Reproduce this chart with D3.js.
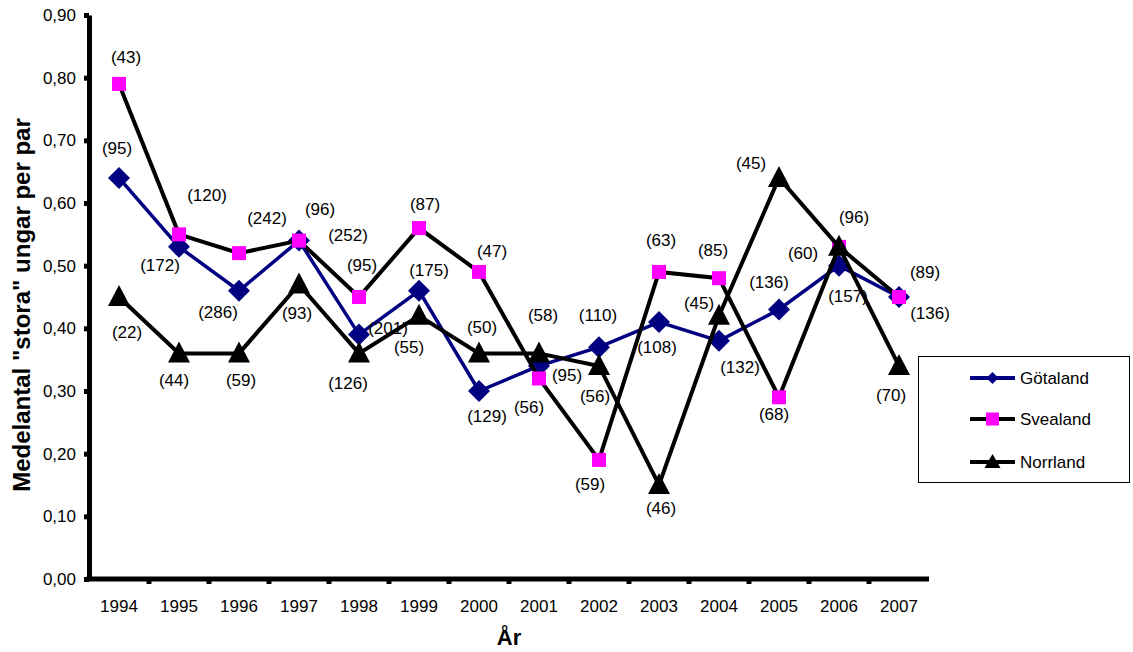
<!DOCTYPE html>
<html><head><meta charset="utf-8">
<script src="https://cdn.jsdelivr.net/npm/d3@7"></script>
<style>
body{margin:0;background:#fff;}
text{font-family:"Liberation Sans",Arial,sans-serif;fill:#000;}
</style></head>
<body><svg id="c" width="1133" height="652"></svg>
<script>
const years = ["1994","1995","1996","1997","1998","1999","2000","2001","2002","2003","2004","2005","2006","2007"];
const yTicks = [0,0.1,0.2,0.3,0.4,0.5,0.6,0.7,0.8,0.9];
const seriesNames = ["Götaland","Svealand","Norrland"];
const gotaland = [0.64,0.53,0.46,0.54,0.39,0.46,0.30,0.34,0.37,0.41,0.38,0.43,0.50,0.45];
const svealand = [0.79,0.55,0.52,0.54,0.45,0.56,0.49,0.32,0.19,0.49,0.48,0.29,0.53,0.45];
const norrland = [0.45,0.36,0.36,0.47,0.36,0.42,0.36,0.36,0.34,0.15,0.42,0.64,0.53,0.34];
const gotalandN = [95,172,286,252,201,175,129,95,110,108,132,136,157,136];
const svealandN = [43,120,242,96,95,87,47,56,59,63,85,68,96,89];
const norrlandN = [22,44,59,93,126,55,50,58,56,46,45,45,60,70];

// label placement offsets (layout only)
const gotOff = [[-2,-30],[-19,18],[-21,21],[49,-6],[29,-7],[10,-21],[8,25],[28,9],[-1,-32],[-2,25],[21,26],[-10,-27],[9,30],[31,16]];
const sveOff = [[7,-27],[28,-39],[28,-35],[21,-32],[3,-32],[6,-24],[13,-21],[-10,29],[-9,24],[2,-32],[-6,-28],[-5,17],[15,-30],[26,-25]];
const norOff = [[8,35],[-5,27],[2,27],[-2,29],[-11,30],[-10,31],[3,-26],[4,-38],[-4,30],[2,23],[-20,-13],[-28,-15],[-36,6],[-8,29]];

const FONT = "Liberation Sans, Arial, sans-serif";
const svg = d3.select("#c");
const L = 89, R = 929, T = 15, B = 579;
const x = d3.scaleBand().domain(years).range([L, R]).padding(0);
const y = d3.scaleLinear().domain([0, 0.9]).range([B, T]);
const cx = d => x(d) + x.bandwidth()/2;

// y axis
const yAx = svg.append("g").attr("transform",`translate(${L},0)`)
  .call(d3.axisLeft(y).tickValues(yTicks).tickSize(5).tickSizeOuter(0)
    .tickFormat(d => d3.format(".2f")(d).replace(".", ",")));
yAx.select(".domain").attr("stroke","#000").attr("stroke-width",5);
yAx.selectAll(".tick line").attr("stroke","#000").attr("stroke-width",5);
yAx.selectAll(".tick text").attr("x",-13).style("font-size","17px").style("font-family",FONT);

// x axis
const xAx = svg.append("g").attr("transform",`translate(0,${B})`)
  .call(d3.axisBottom(x).tickSize(0).tickSizeOuter(0).tickPadding(21));
xAx.select(".domain").attr("stroke","#000").attr("stroke-width",5).attr("d",`M${L-2.5},0H${R}`);
xAx.selectAll(".tick text").style("font-size","17px").style("font-family",FONT);
svg.append("g").selectAll("line").data(years.slice(1)).join("line")
  .attr("x1", d => x(d)).attr("x2", d => x(d))
  .attr("y1", B).attr("y2", B+5).attr("stroke","#000").attr("stroke-width",5);

// axis titles
svg.append("text").attr("transform",`translate(22,305) rotate(-90)`)
  .attr("text-anchor","middle").attr("dy","0.35em")
  .style("font-size","24px").style("font-weight","bold")
  .text('Medelantal "stora" ungar per par');
svg.append("text").attr("x",(L+R)/2).attr("y",645)
  .attr("text-anchor","middle").style("font-size","22px").style("font-weight","bold").text("År");

const line = d3.line().x((d,i) => cx(years[i])).y(d => y(d));

// Götaland
svg.append("path").datum(gotaland).attr("d", line).attr("fill","none")
  .attr("stroke","#000080").attr("stroke-width",3.5);
const diamond = s => `M0,${-s}L${s},0L0,${s}L${-s},0Z`;
svg.append("g").selectAll("path").data(gotaland).join("path")
  .attr("transform",(d,i)=>`translate(${cx(years[i])},${y(d)})`)
  .attr("d", diamond(11)).attr("fill","#000080");

// Svealand
svg.append("path").datum(svealand).attr("d", line).attr("fill","none")
  .attr("stroke","#000").attr("stroke-width",4);
svg.append("g").selectAll("rect").data(svealand).join("rect")
  .attr("x",(d,i)=>cx(years[i])-7).attr("y",d=>y(d)-7)
  .attr("width",14).attr("height",14).attr("fill","#ff00ff");

// Norrland
svg.append("path").datum(norrland).attr("d", line).attr("fill","none")
  .attr("stroke","#000").attr("stroke-width",4);
const tri = `M0,-12L11,9L-11,9Z`;
svg.append("g").selectAll("path").data(norrland).join("path")
  .attr("transform",(d,i)=>`translate(${cx(years[i])},${y(d)})`)
  .attr("d", tri).attr("fill","#000");

// labels
function labels(vals, ns, offs){
  svg.append("g").selectAll("text").data(vals).join("text")
    .attr("x",(d,i)=>cx(years[i]) + offs[i][0])
    .attr("y",(d,i)=>y(d) + offs[i][1])
    .attr("dy","0.35em").attr("text-anchor","middle")
    .style("font-size","17px")
    .text((d,i)=>`(${ns[i]})`);
}
labels(gotaland, gotalandN, gotOff);
labels(svealand, svealandN, sveOff);
labels(norrland, norrlandN, norOff);

// legend
const lg = svg.append("g");
lg.append("rect").attr("x",918.5).attr("y",356.5).attr("width",211).attr("height",126)
  .attr("fill","#fff").attr("stroke","#000").attr("stroke-width",1);
const rowsY = [378, 419, 462];
const colors = ["#000080","#000","#000"];
seriesNames.forEach((nm,i)=>{
  const yy = rowsY[i];
  lg.append("line").attr("x1",970).attr("x2",1015).attr("y1",yy).attr("y2",yy)
    .attr("stroke",colors[i]).attr("stroke-width",4);
  const mx = 992.5;
  if(i===0) lg.append("path").attr("transform",`translate(${mx},${yy})`).attr("d",diamond(6)).attr("fill","#000080");
  if(i===1) lg.append("rect").attr("x",mx-6.5).attr("y",yy-6.5).attr("width",13).attr("height",13).attr("fill","#ff00ff");
  if(i===2) lg.append("path").attr("transform",`translate(${mx},${yy})`).attr("d","M0,-8L8,6L-8,6Z").attr("fill","#000");
  lg.append("text").attr("x",1020).attr("y",yy).attr("dy","0.35em").style("font-size","17px").text(nm);
});
</script></body></html>
